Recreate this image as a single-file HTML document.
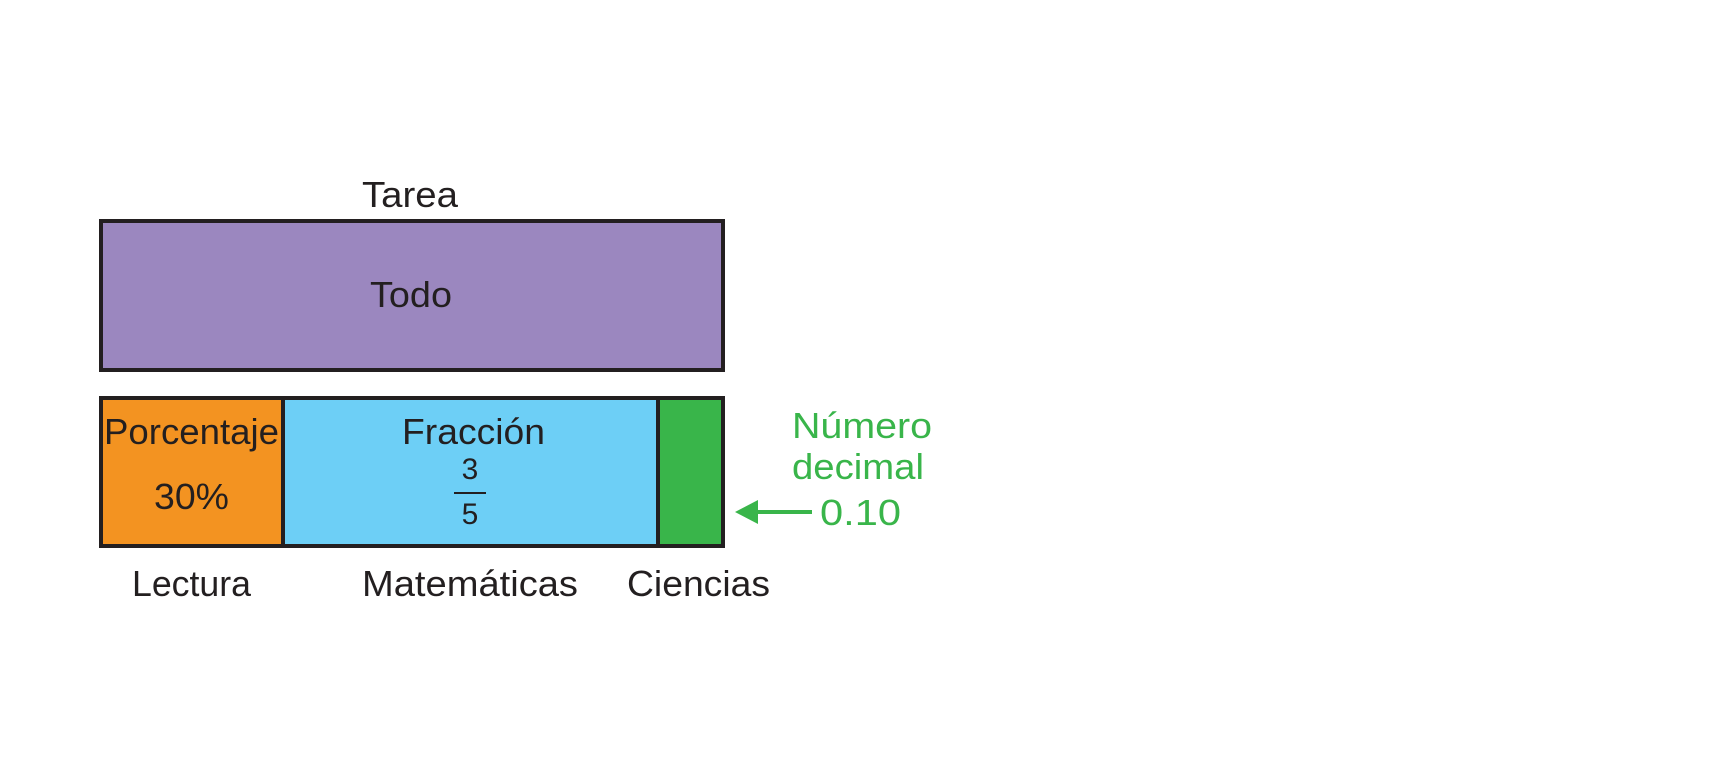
<!DOCTYPE html>
<html><head><meta charset="utf-8"><style>html,body{margin:0;padding:0;background:#fff}svg{display:block}</style></head>
<body>
<svg width="1720" height="780" viewBox="0 0 1720 780" xmlns="http://www.w3.org/2000/svg" font-family="'Liberation Sans Narrow','Liberation Sans',sans-serif" font-size="36" fill="#231f20">
<rect x="101" y="221" width="622" height="149" fill="#9b87bf" stroke="#231f20" stroke-width="4"/>
<rect x="101" y="398" width="182" height="148" fill="#f39321" stroke="#231f20" stroke-width="4"/>
<rect x="283" y="398" width="375" height="148" fill="#6dcff6" stroke="#231f20" stroke-width="4"/>
<rect x="658" y="398" width="65" height="148" fill="#39b54a" stroke="#231f20" stroke-width="4"/>
<text x="362" y="207" textLength="96" lengthAdjust="spacingAndGlyphs">Tarea</text>
<text x="370" y="307" textLength="82" lengthAdjust="spacingAndGlyphs">Todo</text>
<text x="104" y="444" textLength="175" lengthAdjust="spacingAndGlyphs">Porcentaje</text>
<text x="154" y="509" textLength="75" lengthAdjust="spacingAndGlyphs">30%</text>
<text x="402" y="444" textLength="143" lengthAdjust="spacingAndGlyphs">Fracción</text>
<text x="470" y="479" font-size="30" text-anchor="middle">3</text>
<line x1="454" y1="493" x2="486" y2="493" stroke="#231f20" stroke-width="2"/>
<text x="470" y="524" font-size="30" text-anchor="middle">5</text>
<text x="132" y="596" textLength="119" lengthAdjust="spacingAndGlyphs">Lectura</text>
<text x="362" y="596" textLength="216" lengthAdjust="spacingAndGlyphs">Matemáticas</text>
<text x="627" y="596" textLength="143" lengthAdjust="spacingAndGlyphs">Ciencias</text>
<g fill="#39b54a">
<text x="792" y="438" textLength="140" lengthAdjust="spacingAndGlyphs">Número</text>
<text x="792" y="479" textLength="132" lengthAdjust="spacingAndGlyphs">decimal</text>
<text x="820" y="525" textLength="81" lengthAdjust="spacingAndGlyphs">0.10</text>
<line x1="752" y1="512" x2="812" y2="512" stroke="#39b54a" stroke-width="4"/>
<polygon points="735,512 758,500 758,524"/>
</g>
</svg>
</body></html>
